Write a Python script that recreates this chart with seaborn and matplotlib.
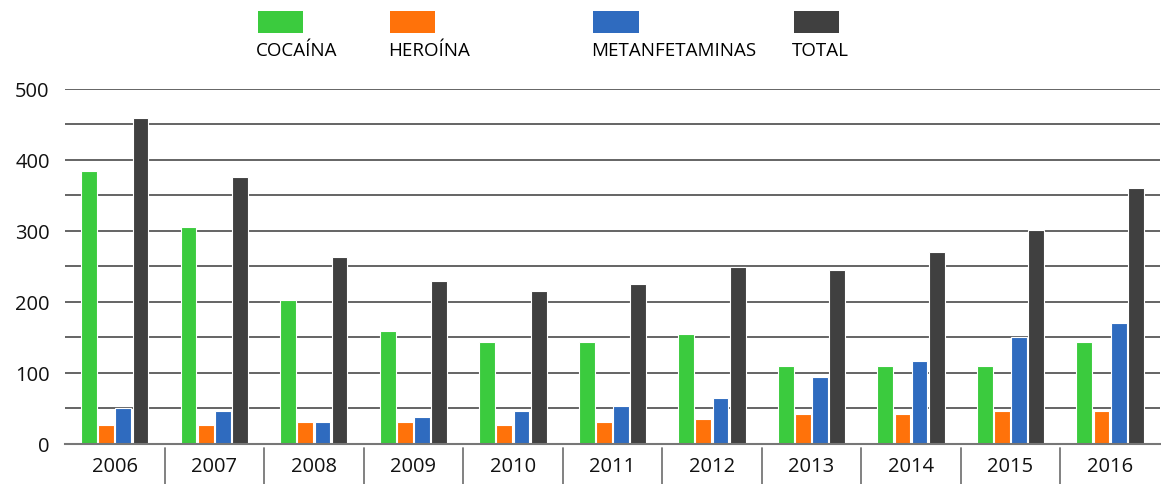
import pandas as pd
import matplotlib.pyplot as plt
import seaborn as sns
from matplotlib.patches import Rectangle
from matplotlib.ticker import MultipleLocator

years = ['2006', '2007', '2008', '2009', '2010', '2011', '2012', '2013', '2014', '2015', '2016']
cocaina = [384, 306, 203, 159, 143, 144, 155, 110, 110, 110, 144]
heroina = [27, 27, 31, 31, 27, 31, 35, 42, 42, 46, 46]
metanfetaminas = [50, 46, 31, 38, 46, 53, 65, 95, 117, 151, 170]
total = [459, 376, 264, 230, 215, 226, 249, 245, 271, 301, 361]

series = ['COCAÍNA', 'HEROÍNA', 'METANFETAMINAS', 'TOTAL']
colors = ['#3BCB3E', '#FF720A', '#2F6BBF', '#404040']

df = pd.DataFrame({'year': years * 4,
                   'serie': [s for s in series for _ in years],
                   'valor': cocaina + heroina + metanfetaminas + total})

sns.set_theme(style='white')
plt.rcParams['font.family'] = ['Open Sans', 'DejaVu Sans']

fig = plt.figure(figsize=(11.61, 4.85), dpi=100)
ax = fig.add_axes([0.056, 0.0825, 0.943, 0.732])

sns.barplot(data=df, x='year', y='valor', hue='serie', palette=colors,
            saturation=1, width=0.69, gap=0.08, edgecolor='white', linewidth=0.8,
            legend=False, ax=ax)

ax.set_xlim(-0.5, len(years) - 0.5)
ax.set_ylim(0, 500)
ax.yaxis.set_major_locator(MultipleLocator(100))
ax.yaxis.set_minor_locator(MultipleLocator(50))
ax.grid(axis='y', which='both', color='#3a3a3a', linewidth=1.1, zorder=0)
ax.set_axisbelow(True)
ax.tick_params(axis='both', which='both', length=0, labelsize=14.5, colors='#111111')
ax.tick_params(axis='y', pad=11)
ax.tick_params(axis='x', pad=9)
for lab in ax.get_xticklabels() + ax.get_yticklabels():
    lab.set_fontweight(500)
ax.set_xlabel('')
ax.set_ylabel('')
for side in ['top', 'left', 'right']:
    ax.spines[side].set_visible(False)
ax.spines['bottom'].set_color('#777777')
ax.spines['bottom'].set_linewidth(1.5)

# separators between the years, below the axis
trans = ax.get_xaxis_transform()
for i in range(len(years) - 1):
    ax.plot([i + 0.5, i + 0.5], [-0.01, -0.12], transform=trans,
            color='#777777', linewidth=1.3, clip_on=False)

# legend: colour box above each label
legend_x = [0.222, 0.336, 0.511, 0.684]
for name, col, lx in zip(series, colors, legend_x):
    fig.add_artist(Rectangle((lx, 0.930), 0.039, 0.045, transform=fig.transFigure,
                             facecolor=col, edgecolor='none'))
    fig.text(lx - 0.002, 0.895, name, fontsize=13.5, color='#000000',
             fontweight=500, ha='left', va='center')

fig.savefig('out.png', dpi=100)
